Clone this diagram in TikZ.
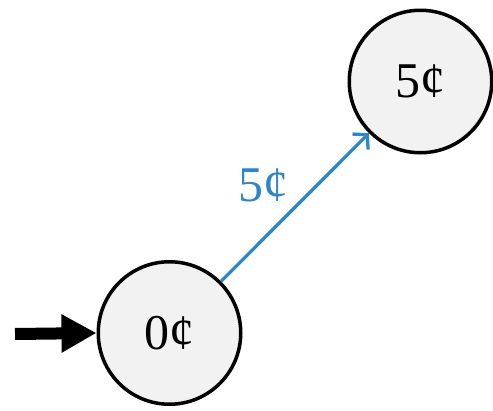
\documentclass[tikz,border=0pt]{standalone}
\usepackage{fontspec}
\setmainfont{Liberation Serif}
\usetikzlibrary{arrows.meta}
\definecolor{edgeblue}{HTML}{2E86C8}
\definecolor{statefill}{HTML}{F2F2F2}
\begin{document}
\begin{tikzpicture}[x=1pt,y=-1pt,
  state/.style={circle,draw=black,line width=3.5pt,fill=statefill,minimum size=142.5pt,inner sep=0pt,font=\fontsize{50}{54}\selectfont},
  trans/.style={draw=edgeblue,line width=3.3pt,-{Straight Barb[length=10pt,width=22pt,line width=3.3pt]}},
  startarrow/.style={line width=12pt,-{Triangle[length=35pt,width=36pt]}}]
\useasboundingbox (0,0) rectangle (493,410);
\node[state] (s0) at (169.5,333) {0¢};
\node[state] (s5) at (420.5,81.5) {5¢};
\coordinate (init) at (15,334);
\draw[startarrow] (init) -- (s0.west);
\draw[trans] (s0) -- (s5);
\node[text=edgeblue,font=\fontsize{50}{54}\selectfont] (lbl) at (263,185) {5¢};
\end{tikzpicture}
\end{document}
